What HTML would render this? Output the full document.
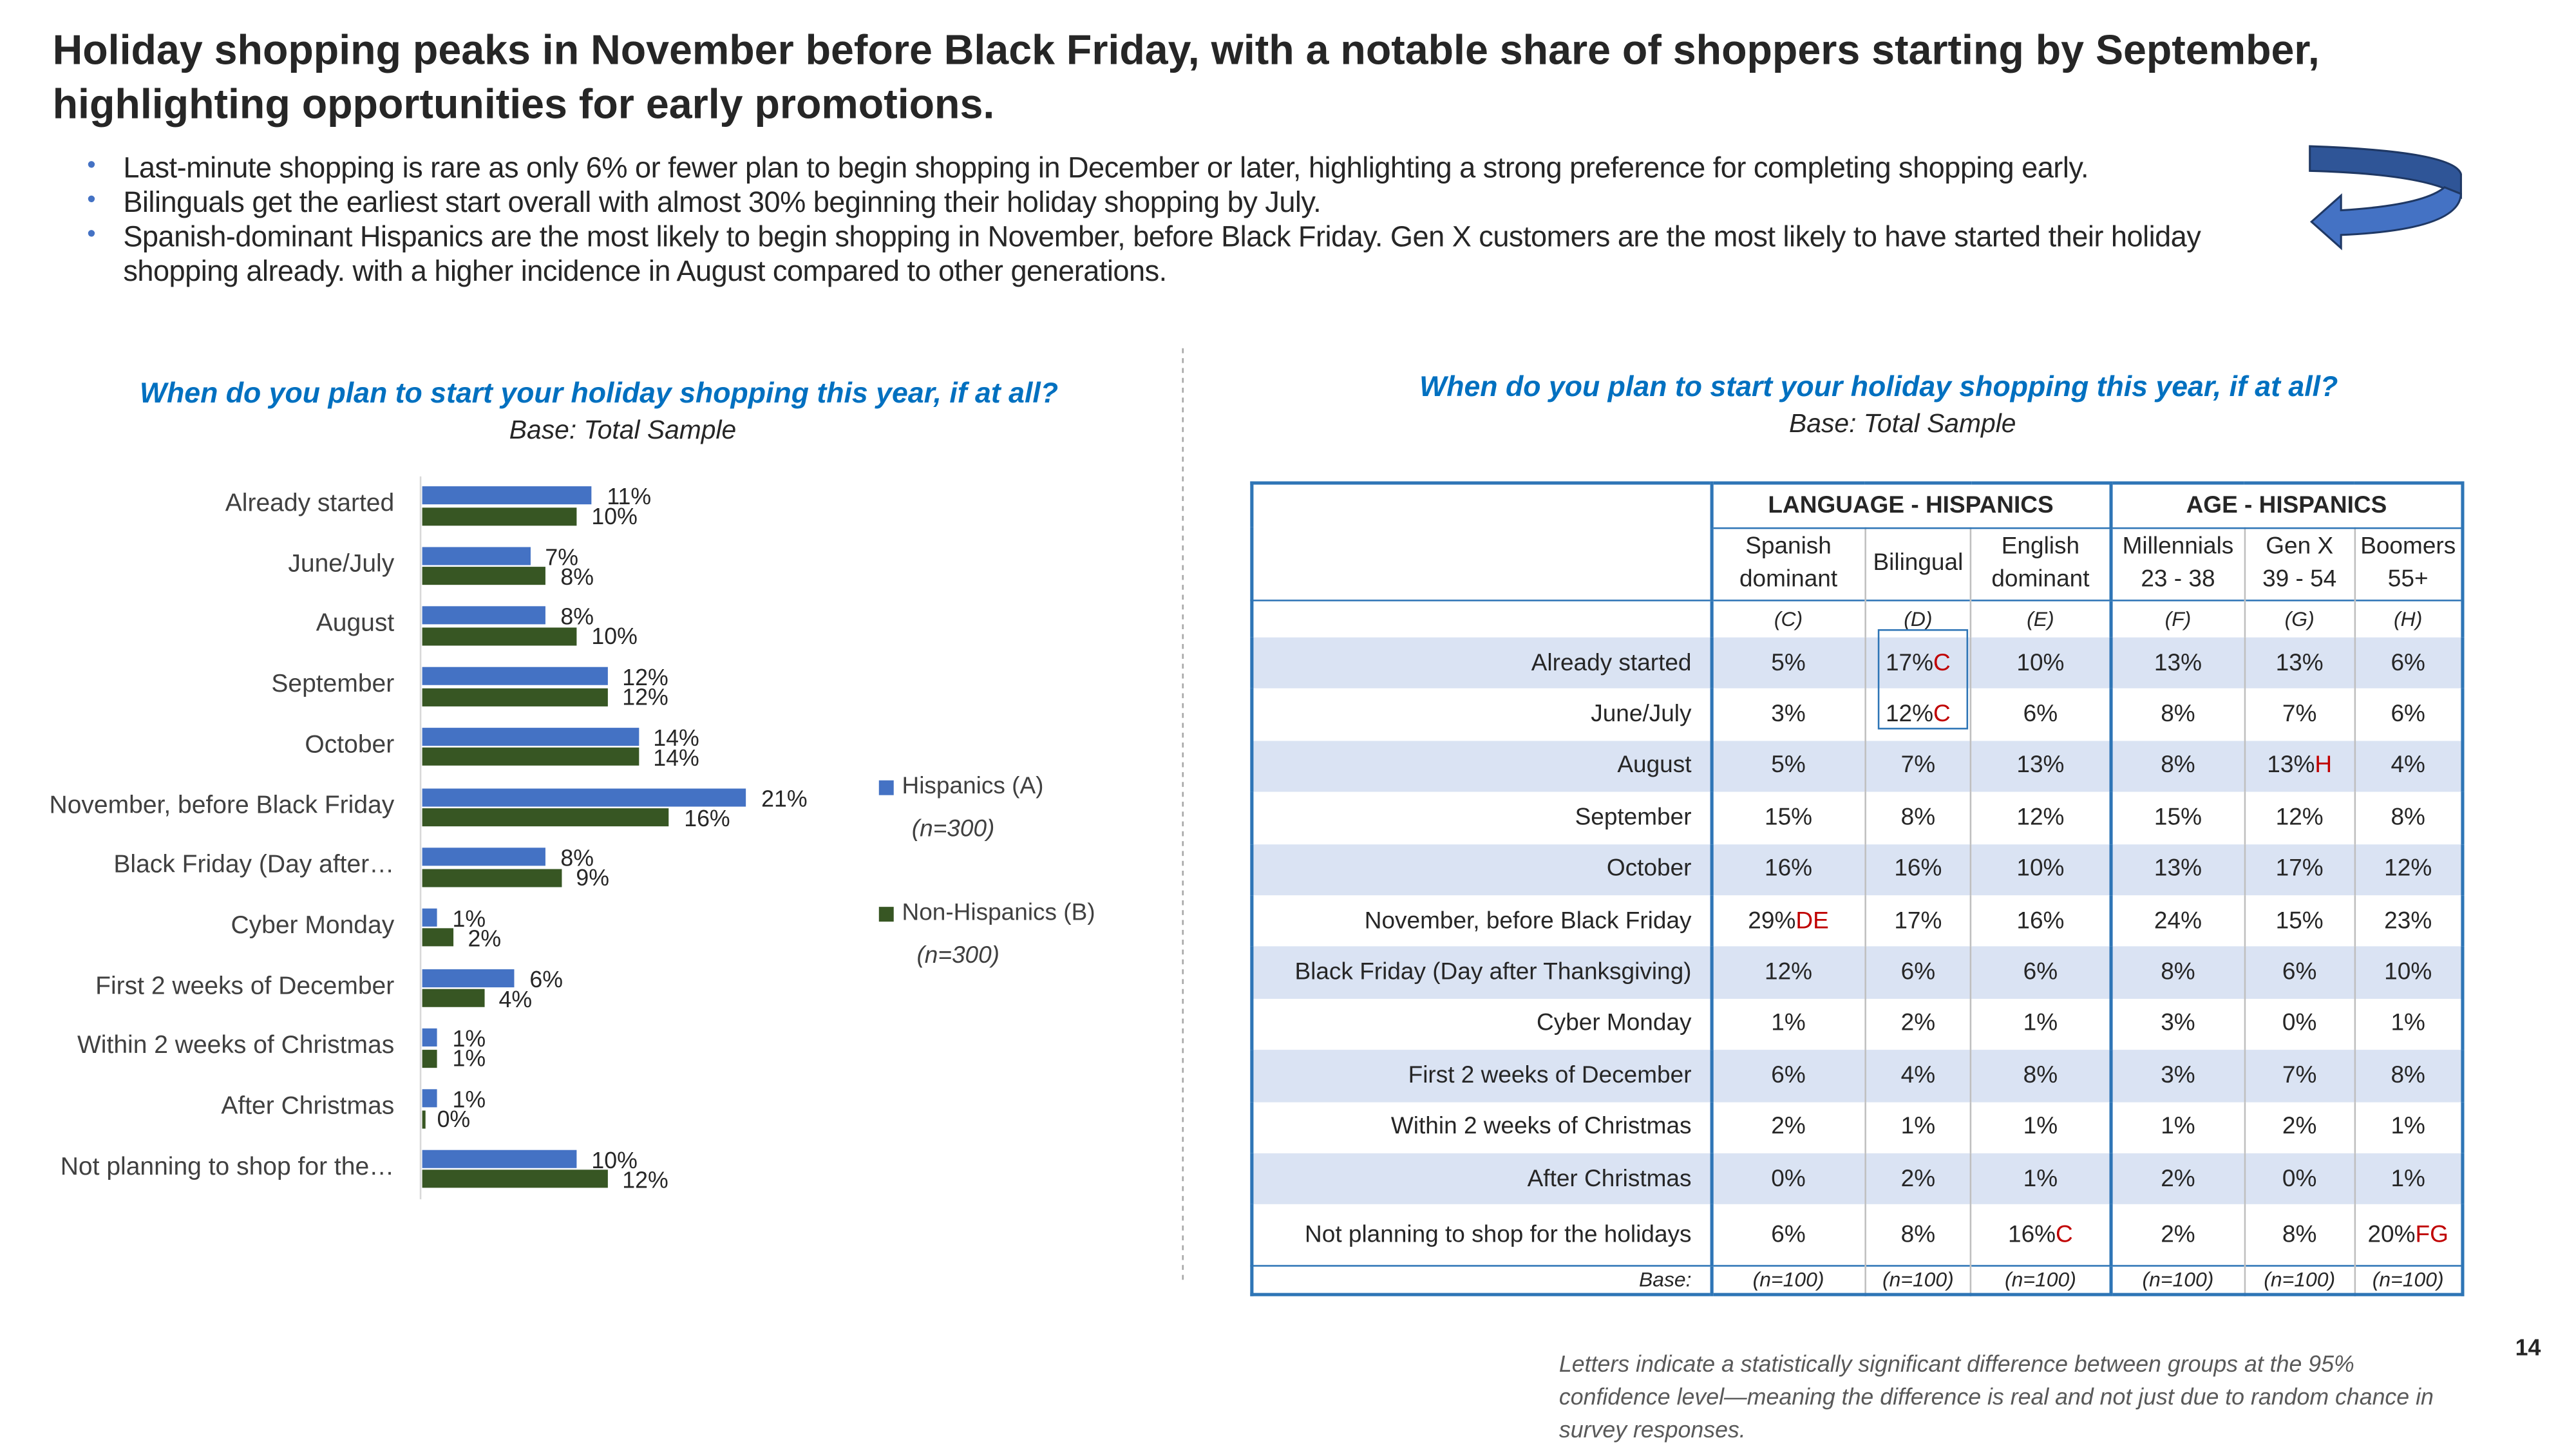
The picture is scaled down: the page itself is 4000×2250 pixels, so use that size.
<!DOCTYPE html>
<html><head><meta charset="utf-8"><style>
html,body{margin:0;padding:0;background:#fff;}
body{width:4000px;height:2250px;overflow:hidden;position:relative;}
#s{position:absolute;left:0;top:0;width:1568px;height:882px;transform:scale(2.5510);transform-origin:0 0;font-family:"Liberation Sans",sans-serif;color:#262626;}
.a{position:absolute;white-space:nowrap;}
.t{font-weight:bold;font-size:25.3px;color:#262626;left:32px;}
.b{font-size:17.7px;left:75px;letter-spacing:-0.2px}
.q{color:#0070C0;font-weight:bold;font-style:italic;font-size:17.5px;}
.it{font-style:italic;font-size:16px;}
.lab{font-size:15.3px;color:#404040;text-align:right;width:230px;left:10px;}
.bar{position:absolute;height:11px;}
.bl{background:#4472C4;}.gr{background:#375623;}
.v{font-size:14px;color:#262626;}
td{padding:0;text-align:center;font-size:14.5px;color:#262626;}
.r{color:#C00000;}
</style></head><body><div id="s">
<div class="a t" style="top:17px">Holiday shopping peaks in November before Black Friday, with a notable share of shoppers starting by September,</div>
<div class="a t" style="top:50px">highlighting opportunities for early promotions.</div>
<div class="a b" style="top:92px">Last-minute shopping is rare as only 6% or fewer plan to begin shopping in December or later, highlighting a strong preference for completing shopping early.</div>
<div class="a b" style="top:113px">Bilinguals get the earliest start overall with almost 30% beginning their holiday shopping by July.</div>
<div class="a b" style="top:134px">Spanish-dominant Hispanics are the most likely to begin shopping in November, before Black Friday. Gen X customers are the most likely to have started their holiday</div>
<div class="a b" style="top:155px">shopping already. with a higher incidence in August compared to other generations.</div>
<div class="a" style="left:53px;top:92px;color:#4472C4;font-size:15px">•</div>
<div class="a" style="left:53px;top:113px;color:#4472C4;font-size:15px">•</div>
<div class="a" style="left:53px;top:134px;color:#4472C4;font-size:15px">•</div>
<svg class="a" style="left:0;top:0" width="1568" height="882">
<path d="M1406,89 Q1494,92 1498,106 L1498,120 Q1480,106 1406,104 Z" fill="#2F5597" stroke="#1F3864" stroke-width="1.2"/>
<path d="M1498,118 Q1497,140 1425,143 L1425,151 L1407,135 L1425,119 L1425,128 Q1475,125 1488,114 Z" fill="#4472C4" stroke="#1F3864" stroke-width="1.2"/>
<line x1="720" y1="212" x2="720" y2="782" stroke="#A6A6A6" stroke-dasharray="3,3"/>
<line x1="256" y1="290" x2="256" y2="730" stroke="#D9D9D9"/>
</svg>
<div class="a q" style="left:85px;top:229px">When do you plan to start your holiday shopping this year, if at all?</div>
<div class="a it" style="left:310px;top:254px">Base: Total Sample</div>
<div id="chart"></div>
<div class="a" style="left:535px;top:475px;width:9px;height:9px;background:#4472C4"></div>
<div class="a" style="left:549px;top:471px;font-size:14.5px;color:#404040">Hispanics (A)</div>
<div class="a it" style="left:555px;top:497px;font-size:14.5px;color:#404040">(n=300)</div>
<div class="a" style="left:535px;top:552px;width:9px;height:9px;background:#375623"></div>
<div class="a" style="left:549px;top:548px;font-size:14.5px;color:#404040">Non-Hispanics (B)</div>
<div class="a it" style="left:558px;top:574px;font-size:14.5px;color:#404040">(n=300)</div>

<div class="a q" style="left:864px;top:225px">When do you plan to start your holiday shopping this year, if at all?</div>
<div class="a it" style="left:1089px;top:250px">Base: Total Sample</div>

<table class="a" style="left:761px;top:293px;width:739px;height:496px;border-collapse:collapse;border:2px solid #2E75B6">
<colgroup><col style="width:280px"><col style="width:94px"><col style="width:65px"><col style="width:85px"><col style="width:82px"><col style="width:67px"><col style="width:66px"></colgroup>
<tr style="height:27px"><td style="border-right:2px solid #2E75B6"></td><td colspan="3" style="font-weight:bold;border-bottom:1px solid #2E75B6;border-right:2px solid #2E75B6">LANGUAGE - HISPANICS</td><td colspan="3" style="font-weight:bold;border-bottom:1px solid #2E75B6">AGE - HISPANICS</td></tr>
<tr style="height:44px;line-height:20px;border-bottom:1px solid #2E75B6"><td style="border-right:2px solid #2E75B6"></td><td style="border-right:1px solid #BFBFBF">Spanish<br>dominant</td><td style="border-right:1px solid #BFBFBF">Bilingual</td><td style="border-right:2px solid #2E75B6">English<br>dominant</td><td style="border-right:1px solid #BFBFBF">Millennials<br>23 - 38</td><td style="border-right:1px solid #BFBFBF">Gen X<br>39 - 54</td><td>Boomers<br>55+</td></tr>
<tbody id="tb"></tbody>
</table>
<div class="a" style="left:1143px;top:383px;width:53px;height:59px;border:1.5px solid #2E75B6"></div>

<div class="a it" style="left:949px;top:820px;font-size:14px;color:#595959;line-height:20px">Letters indicate a statistically significant difference between groups at the 95%<br>confidence level—meaning the difference is real and not just due to random chance in<br>survey responses.</div>
<div class="a" style="left:1531px;top:812px;font-weight:bold;font-size:14px">14</div>
</div>
<script>
var L=["Already started","June/July","August","September","October","November, before Black Friday","Black Friday (Day after…","Cyber Monday","First 2 weeks of December","Within 2 weeks of Christmas","After Christmas","Not planning to shop for the…"];
var H=[11,7,8,12,14,21,8,1,6,1,1,10],N=[10,8,10,12,14,16,9,2,4,1,0,12];
var h="";
for(var i=0;i<12;i++){var y=307+i*36.7;
h+='<div class="a lab" style="top:'+(y-9)+'px">'+L[i]+'</div>';
h+='<div class="bar bl" style="left:257px;top:'+(y-11)+'px;width:'+(H[i]*9.4)+'px"></div>';
h+='<div class="bar gr" style="left:257px;top:'+(y+1.5)+'px;width:'+Math.max(N[i]*9.4,2)+'px"></div>';
h+='<div class="a v" style="left:'+(257+H[i]*9.4+9)+'px;top:'+(y-13)+'px">'+H[i]+'%</div>';
h+='<div class="a v" style="left:'+(257+N[i]*9.4+9)+'px;top:'+(y-1)+'px">'+N[i]+'%</div>';}
document.getElementById("chart").innerHTML=h;
var R=[["Already started","5%","17%<span class=r>C</span>","10%","13%","13%","6%"],["June/July","3%","12%<span class=r>C</span>","6%","8%","7%","6%"],["August","5%","7%","13%","8%","13%<span class=r>H</span>","4%"],["September","15%","8%","12%","15%","12%","8%"],["October","16%","16%","10%","13%","17%","12%"],["November, before Black Friday","29%<span class=r>DE</span>","17%","16%","24%","15%","23%"],["Black Friday (Day after Thanksgiving)","12%","6%","6%","8%","6%","10%"],["Cyber Monday","1%","2%","1%","3%","0%","1%"],["First 2 weeks of December","6%","4%","8%","3%","7%","8%"],["Within 2 weeks of Christmas","2%","1%","1%","1%","2%","1%"],["After Christmas","0%","2%","1%","2%","0%","1%"],["Not planning to shop for the holidays","6%","8%","16%<span class=r>C</span>","2%","8%","20%<span class=r>FG</span>"]];
function row(c,hgt,bg,st,bb){var s='<tr style="height:'+hgt+'px;background:'+bg+';'+(bb||'')+'">';for(var j=0;j<7;j++){var br=(j==0||j==3)?'border-right:2px solid #2E75B6;':(j==6?'':'border-right:1px solid #BFBFBF;');s+='<td style="'+br+(j==0?'text-align:right;padding-right:11px;':'')+(st||'')+'">'+c[j]+'</td>';}return s+'</tr>';}
var t=row(["","(C)","(D)","(E)","(F)","(G)","(H)"],23,"#fff","font-style:italic;font-size:12.5px;");
for(var i=0;i<12;i++)t+=row(R[i],i==11?37:31.4,i%2==0?"#DAE3F3":"#fff","",i==11?"border-bottom:1px solid #2E75B6":"");
t+=row(["Base:","(n=100)","(n=100)","(n=100)","(n=100)","(n=100)","(n=100)"],18,"#fff","font-style:italic;font-size:12.5px;");
document.getElementById("tb").innerHTML=t;
</script>
</body></html>
